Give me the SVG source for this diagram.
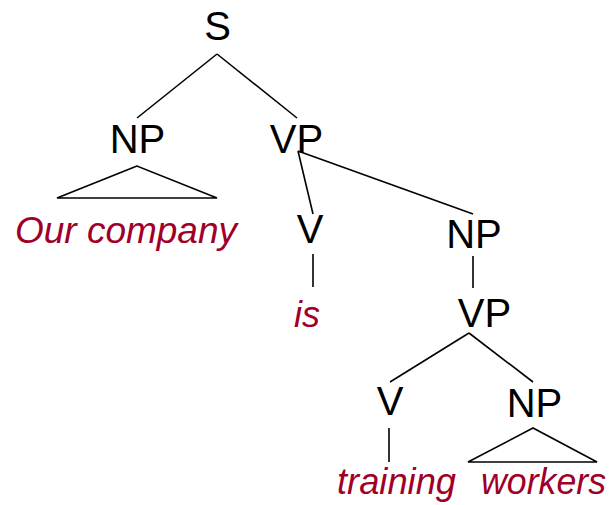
<svg xmlns="http://www.w3.org/2000/svg" width="611" height="505" viewBox="0 0 611 505">
<style>
.lab{font-family:"Liberation Sans",Arial,sans-serif;font-size:40px;fill:#000;text-anchor:middle}
.word{font-family:"Liberation Sans",Arial,sans-serif;font-size:36px;font-style:italic;fill:#A00028}
.edge{stroke:#000;stroke-width:1.6;fill:none}
</style>
<rect width="611" height="505" fill="#fff"/>
<g id="connectors">
<line class="edge" x1="217" y1="54" x2="137" y2="118"/>
<line class="edge" x1="217" y1="54" x2="297" y2="118"/>
<polygon class="edge" points="137,166 57,198 217,198"/>
<line class="edge" x1="298" y1="151" x2="313" y2="214"/>
<line class="edge" x1="298" y1="151" x2="473" y2="214"/>
<line class="edge" x1="313" y1="254" x2="313" y2="287"/>
<line class="edge" x1="473" y1="256" x2="473" y2="288"/>
<line class="edge" x1="469" y1="333" x2="390" y2="382"/>
<line class="edge" x1="469" y1="333" x2="533" y2="382"/>
<line class="edge" x1="389" y1="428" x2="389" y2="462"/>
<polygon class="edge" points="533,428 468,462 597,462"/>
</g>
<g id="S"><text class="lab" x="217.5" y="40">S</text></g>
<g id="NP1"><text class="lab" x="137.5" y="153">NP</text></g>
<g id="VP1"><text class="lab" x="296.5" y="153">VP</text></g>
<g id="w-our-company"><text class="word" x="15" y="243" textLength="222" lengthAdjust="spacingAndGlyphs">Our company</text></g>
<g id="V1"><text class="lab" x="310" y="243">V</text></g>
<g id="w-is"><text class="word" x="294" y="327">is</text></g>
<g id="NP2"><text class="lab" x="474" y="248">NP</text></g>
<g id="VP2"><text class="lab" x="484.5" y="327">VP</text></g>
<g id="V2"><text class="lab" x="390" y="415">V</text></g>
<g id="NP3"><text class="lab" x="534.5" y="417">NP</text></g>
<g id="w-training"><text class="word" x="337" y="494" textLength="119" lengthAdjust="spacingAndGlyphs">training</text></g>
<g id="w-workers"><text class="word" x="481" y="494" textLength="125" lengthAdjust="spacingAndGlyphs">workers</text></g>
</svg>
